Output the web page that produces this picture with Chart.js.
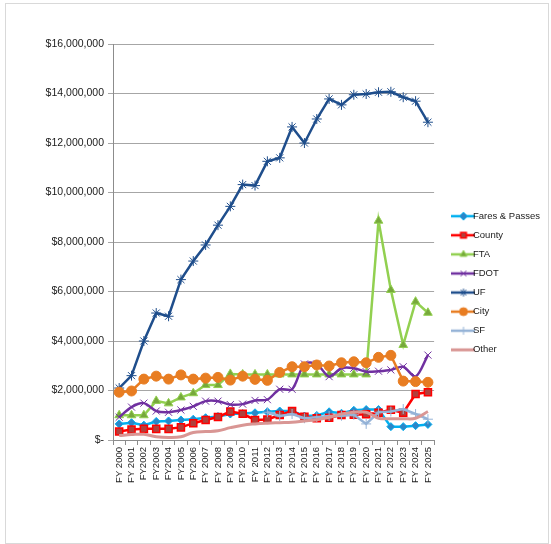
<!DOCTYPE html>
<html>
<head>
<meta charset="utf-8">
<script src="https://cdn.jsdelivr.net/npm/chart.js@4"></script>
<style>
  html, body { margin: 0; padding: 0; background: #fff; }
  #frame { position: absolute; left: 5px; top: 3px; width: 542px; height: 539px; border: 1px solid #d9d9d9; }
  #wrap { position: absolute; left: 0; top: 0; width: 551px; height: 544px; }
</style>
</head>
<body>
<div id="frame"></div>
<div id="wrap"><canvas id="chart"></canvas></div>
<script>
// categories and series (dollars)
const categories = ["FY 2000","FY 2001","FY2002","FY2003","FY2004","FY2005","FY2006","FY 2007","FY 2008","FY 2009",
  "FY 2010","FY 2011","FY 2012","FY 2013","FY 2014","FY 2015","FY 2016","FY 2017","FY 2018","FY 2019",
  "FY 2020","FY 2021","FY 2022","FY 2023","FY 2024","FY 2025"];

const faresPasses = [650000, 700000, 600000, 750000, 770000, 810000, 840000, 900000, 950000, 1050000,
  1070000, 1100000, 1140000, 1170000, 1170000, 970000, 990000, 1140000, 1080000, 1200000,
  1230000, 1230000, 540000, 540000, 580000, 630000];
const county = [340000, 420000, 450000, 450000, 450000, 510000, 680000, 810000, 930000, 1150000,
  1060000, 810000, 830000, 1010000, 1170000, 940000, 880000, 900000, 1010000, 1020000,
  1040000, 1100000, 1220000, 1100000, 1860000, 1930000];
const fta = [1000000, 1000000, 1000000, 1580000, 1480000, 1720000, 1890000, 2220000, 2220000, 2670000,
  2650000, 2650000, 2650000, 2650000, 2650000, 2650000, 2650000, 2650000, 2650000, 2650000,
  2650000, 8860000, 6060000, 3840000, 5590000, 5140000];
const fdot = [920000, 1330000, 1490000, 1170000, 1120000, 1210000, 1360000, 1570000, 1570000, 1430000,
  1450000, 1600000, 1630000, 2050000, 2050000, 3070000, 3070000, 2560000, 2900000, 2900000,
  2760000, 2780000, 2830000, 2960000, 2560000, 3430000];
const uf = [2100000, 2600000, 4000000, 5130000, 5000000, 6480000, 7230000, 7880000, 8680000, 9440000,
  10320000, 10280000, 11260000, 11400000, 12650000, 12000000, 12970000, 13780000, 13540000, 13950000,
  13980000, 14050000, 14070000, 13850000, 13690000, 12840000];
const city = [1930000, 1980000, 2460000, 2580000, 2460000, 2630000, 2460000, 2500000, 2530000, 2420000,
  2580000, 2450000, 2410000, 2730000, 2960000, 2960000, 3030000, 2990000, 3120000, 3160000,
  3120000, 3340000, 3420000, 2380000, 2360000, 2330000];
const sf = [null, null, null, null, null, null, null, null, null, null,
  null, null, 1120000, 970000, 1050000, 880000, 920000, 970000, 980000, 1020000,
  650000, 1120000, 1150000, 1250000, 1050000, 840000];
const other = [180000, 220000, 230000, 130000, 100000, 130000, 300000, 340000, 370000, 500000,
  600000, 650000, 680000, 700000, 720000, 770000, 820000, 920000, 1050000, 1120000,
  1120000, 880000, 860000, 860000, 880000, 1150000];

const yMax = 16000000;
const yStep = 2000000;

function series(label, data, color, marker, fill, radius, extra) {
  return Object.assign({
    label, data,
    borderColor: color,
    backgroundColor: color,
    borderWidth: 2.5,
    pointStyle: marker,
    pointRadius: radius,
    pointHoverRadius: radius,
    pointBackgroundColor: fill,
    pointBorderColor: color,
    pointBorderWidth: 1,
    tension: 0,
    spanGaps: false
  }, extra || {});
}

const datasets = [
  series("Fares & Passes", faresPasses, "#00B0F0", "rectRot", "#2C86C8", 4),
  series("County", county, "#FF0000", "rect", "#B0403C", 5, { pointBorderWidth: 1.5 }),
  series("FTA", fta, "#92D050", "triangle", "#77A83C", 5),
  series("FDOT", fdot, "#7030A0", "crossRot", "#7030A0", 5, { tension: 0.3 }),
  series("UF", uf, "#1F4E8C", "star", "#1F4E8C", 5),
  series("City", city, "#E87D22", "circle", "#E87D22", 5),
  series("SF", sf, "#95B3D7", "cross", "#95B3D7", 5),
  series("Other", other, "#D99694", false, "#D99694", 0, { borderWidth: 3, tension: 0.4 })
];
// later series drawn on top, like the source
datasets.forEach((d, i) => d.order = datasets.length - i);

// legend sample: short line with the marker in the middle
function legendSample(ds) {
  const c = document.createElement("canvas");
  c.width = 24; c.height = 12;
  const g = c.getContext("2d");
  g.strokeStyle = ds.borderColor;
  g.lineWidth = ds.borderWidth;
  g.beginPath(); g.moveTo(0, 6); g.lineTo(24, 6); g.stroke();
  if (ds.pointStyle) {
    g.fillStyle = ds.pointBackgroundColor;
    g.strokeStyle = ds.pointBorderColor;
    g.lineWidth = ds.pointBorderWidth;
    Chart.helpers.drawPoint(g, { pointStyle: ds.pointStyle, radius: 4, rotation: 0, borderWidth: ds.pointBorderWidth }, 12, 6);
  }
  return c;
}

const shiftLegend = {
  id: "shiftLegend",
  afterLayout(chart) {
    const l = chart.legend;
    l.left += 15; l.right += 15;
    l.top -= 11; l.bottom -= 11;
  }
};

const ctx = document.getElementById("chart").getContext("2d");
new Chart(ctx, {
  type: "line",
  data: { labels: categories, datasets },
  plugins: [shiftLegend],
  options: {
    responsive: true,
    maintainAspectRatio: false,
    animation: false,
    layout: { padding: { top: 44, right: 16, bottom: 0, left: 0 } },
    font: { family: "'Liberation Sans', Arial, sans-serif" },
    scales: {
      x: {
        offset: true,
        afterFit: s => { s.height = 104; },
        grid: { offset: true, drawOnChartArea: false, tickLength: 5, color: "#8c8c8c" },
        border: { color: "#8c8c8c" },
        ticks: {
          autoSkip: false, minRotation: 90, maxRotation: 90, padding: 2,
          color: "#1a1a1a", font: { family: "'Liberation Sans', Arial, sans-serif", size: 9.5 }
        }
      },
      y: {
        min: 0, max: yMax,
        afterFit: s => { s.width = 113; },
        grid: { color: "#a6a6a6", tickLength: 5 },
        border: { color: "#8c8c8c" },
        ticks: {
          stepSize: yStep, padding: 4,
          color: "#1a1a1a", font: { family: "'Liberation Sans', Arial, sans-serif", size: 10.5 },
          callback: v => v === 0 ? "$-" : "$" + v.toLocaleString("en-US")
        }
      }
    },
    plugins: {
      tooltip: { enabled: false },
      legend: {
        position: "right",
        labels: {
          usePointStyle: true,
          boxWidth: 22,
          boxHeight: 10,
          padding: 9.6,
          color: "#1a1a1a",
          font: { family: "'Liberation Sans', Arial, sans-serif", size: 9.5 },
          sort: (a, b) => a.datasetIndex - b.datasetIndex,
          generateLabels: chart => chart.data.datasets.map((ds, i) => ({
            text: ds.label,
            datasetIndex: i,
            pointStyle: legendSample(ds),
            fontColor: "#1a1a1a",
            hidden: false,
            lineWidth: 0,
            strokeStyle: "transparent",
            fillStyle: "transparent"
          }))
        }
      }
    }
  }
});
</script>
</body>
</html>
